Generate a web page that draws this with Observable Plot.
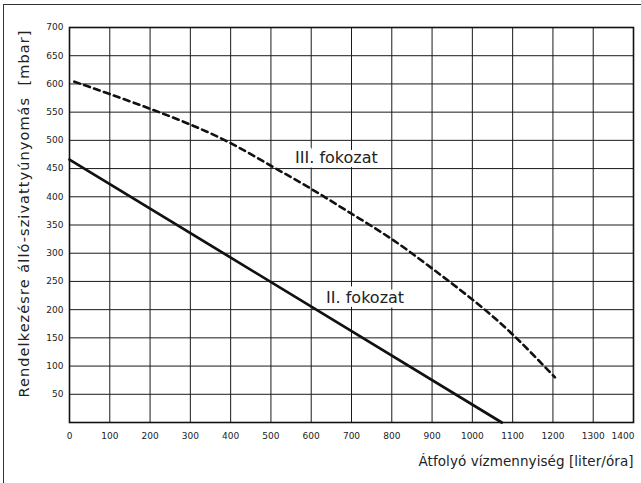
<!DOCTYPE html>
<html><head><meta charset="utf-8">
<script src="https://cdn.jsdelivr.net/npm/d3@7"></script>
<script src="https://cdn.jsdelivr.net/npm/@observablehq/plot@0.6"></script>
<style>
body{margin:0;background:#fff;}
#wrap{position:relative;width:641px;height:483px;overflow:hidden;background:#fff;}
#border{position:absolute;left:3px;top:4px;width:700px;height:600px;border-left:1.3px solid #333;border-top:1.3px solid #333;pointer-events:none;}
</style></head><body><div id="wrap"><div id="chart"></div><div id="border"></div></div>
<script>
// Data
const flowII = [0, 1073];
const pressureII = [466, 0];
const flowIII = [12, 100, 200, 300, 400, 500, 600, 700, 800, 900, 1000, 1100, 1205];
const pressureIII = [604, 582, 556, 528, 495, 455, 414, 370, 325, 273, 218, 156, 80];
const xTicks = [0,100,200,300,400,500,600,700,800,900,1000,1100,1200,1300,1400];
const yTicks = [50,100,150,200,250,300,350,400,450,500,550,600,650,700];
const seriesLabels = ["III. fokozat", "II. fokozat"];
const labelFlow = [560, 637];
const labelPressure = [469, 220];
const xTitle = "Átfolyó vízmennyiség [liter/óra]";
const yTitle = "Rendelkezésre álló-szivattyúnyomás\u00a0\u00a0[mbar]";

const lineII = flowII.map((x, i) => ({x, y: pressureII[i]}));
const lineIII = flowIII.map((x, i) => ({x, y: pressureIII[i]}));
const labels = seriesLabels.map((t, i) => ({t, x: labelFlow[i], y: labelPressure[i]}));
const xGrid = xTicks.slice(1, -1);
const yGrid = yTicks.slice(0, -1);
const fmt = d => String(d);

const chart = Plot.plot({
  width: 641, height: 483,
  marginLeft: 69, marginRight: 8, marginTop: 27, marginBottom: 61,
  x: {domain: [0, 1400]},
  y: {domain: [0, 700]},
  style: {fontFamily: "DejaVu Sans", fontSize: "9px", background: "transparent", color: "#222"},
  marks: [
    Plot.ruleX(xGrid, {stroke: "#1a1a1a", strokeWidth: 1}),
    Plot.text(labels, {x: "x", y: "y", text: "t", textAnchor: "start", fontSize: 16, fill: "white", stroke: "white", strokeWidth: 9}),
    Plot.ruleY(yGrid, {stroke: "#1a1a1a", strokeWidth: 1}),
    Plot.text(labels, {x: "x", y: "y", text: "t", textAnchor: "start", fontSize: 16, fill: "#222"}),
    Plot.line(lineIII, {x: "x", y: "y", stroke: "#111", strokeWidth: 2.6, strokeDasharray: "6,4.5", curve: "natural"}),
    Plot.line(lineII, {x: "x", y: "y", stroke: "#111", strokeWidth: 2.7}),
    Plot.frame({stroke: "#111", strokeWidth: 1.6}),
    Plot.axisX(xTicks.slice(0, -1), {tickSize: 0, tickPadding: 10, label: null, fontSize: 9, tickFormat: fmt}),
    Plot.axisX(xTicks.slice(-1), {tickSize: 0, tickPadding: 10, label: null, fontSize: 9, textAnchor: "end", dx: 1, tickFormat: fmt}),
    Plot.axisY(yTicks, {tickSize: 0, tickPadding: 6, label: null, fontSize: 9, tickFormat: fmt}),
    Plot.text([yTitle], {frameAnchor: "left", textAnchor: "middle", dx: -45, dy: -11, rotate: -90, fontSize: 14.5, lineAnchor: "middle", fill: "#222", className: "ytitle"}),
    Plot.text([xTitle], {frameAnchor: "bottom-right", textAnchor: "end", lineAnchor: "middle", dy: 39, fontSize: 13.5, fill: "#222", className: "xtitle"})
  ]
});
d3.select(chart).selectAll(".ytitle text").attr("textLength", 367).attr("lengthAdjust", "spacing");
d3.select(chart).selectAll(".xtitle text").attr("textLength", 215).attr("lengthAdjust", "spacing");
document.getElementById("chart").appendChild(chart);
</script>
</body></html>
